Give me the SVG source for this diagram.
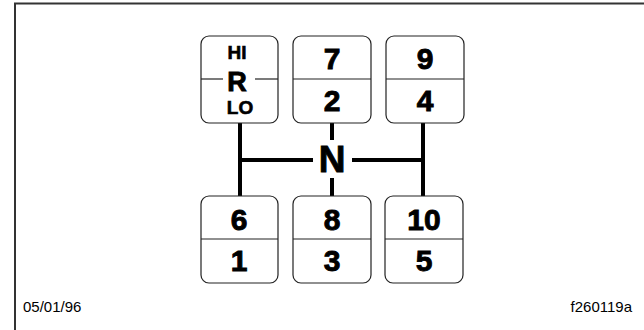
<svg xmlns="http://www.w3.org/2000/svg" width="644" height="330" viewBox="0 0 644 330">
<style>
.box{fill:#fff;stroke:#222;stroke-width:1.2}
.div{stroke:#222;stroke-width:1.2}
.rail{stroke:#000;stroke-width:4;fill:none}
.num{font-family:"Liberation Sans",Arial,sans-serif;font-weight:bold;font-size:30px;text-anchor:middle;fill:#000;stroke:#000;stroke-width:0.9}
.sm{font-family:"Liberation Sans",Arial,sans-serif;font-weight:bold;font-size:19px;text-anchor:middle;fill:#000;stroke:#000;stroke-width:0.6}
.foot{font-family:"Liberation Sans",Arial,sans-serif;font-size:15px;fill:#000}
</style>
<rect width="644" height="330" fill="#fff"/>
<g id="frame">
<path d="M15,330 V3.5 H644" fill="none" stroke="#333" stroke-width="2"/>
</g>
<g id="connectors">
<line class="rail" x1="240" y1="123" x2="240" y2="196"/>
<line class="rail" x1="423" y1="123" x2="423" y2="196"/>
<line class="rail" x1="240" y1="160" x2="313" y2="160"/>
<line class="rail" x1="352" y1="160" x2="423" y2="160"/>
<line class="rail" x1="332" y1="123" x2="332" y2="140"/>
<line class="rail" x1="332" y1="178" x2="332" y2="196"/>
</g>
<g id="node-N">
<text class="num" x="332" y="172" style="font-size:37px">N</text>
</g>
<g id="node-hi-r-lo">
<rect class="box" x="201" y="36" width="77" height="87" rx="8"/>
<line class="div" x1="201" y1="79" x2="223" y2="79"/>
<line class="div" x1="255" y1="79" x2="278" y2="79"/>
<text class="sm" x="237" y="59">HI</text>
<text class="num" x="237" y="91" style="font-size:27px">R</text>
<text class="sm" x="240" y="114">LO</text>
</g>
<g id="node-7-2">
<rect class="box" x="293" y="36" width="78" height="87" rx="8"/>
<line class="div" x1="293" y1="79" x2="371" y2="79"/>
<text class="num" x="332" y="69">7</text>
<text class="num" x="332" y="111">2</text>
</g>
<g id="node-9-4">
<rect class="box" x="386" y="36" width="78" height="87" rx="8"/>
<line class="div" x1="386" y1="79" x2="464" y2="79"/>
<text class="num" x="425" y="69">9</text>
<text class="num" x="425" y="111">4</text>
</g>
<g id="node-6-1">
<rect class="box" x="201" y="196" width="77" height="87" rx="8"/>
<line class="div" x1="201" y1="239" x2="278" y2="239"/>
<text class="num" x="239" y="230">6</text>
<text class="num" x="239" y="271">1</text>
</g>
<g id="node-8-3">
<rect class="box" x="293" y="196" width="78" height="87" rx="8"/>
<line class="div" x1="293" y1="239" x2="371" y2="239"/>
<text class="num" x="332" y="230">8</text>
<text class="num" x="332" y="271">3</text>
</g>
<g id="node-10-5">
<rect class="box" x="385" y="196" width="78" height="87" rx="8"/>
<line class="div" x1="385" y1="239" x2="463" y2="239"/>
<text class="num" x="424" y="230">10</text>
<text class="num" x="424" y="271">5</text>
</g>
<g id="footer">
<text class="foot" x="23" y="312">05/01/96</text>
<text class="foot" x="632" y="312" text-anchor="end">f260119a</text>
</g>
</svg>
